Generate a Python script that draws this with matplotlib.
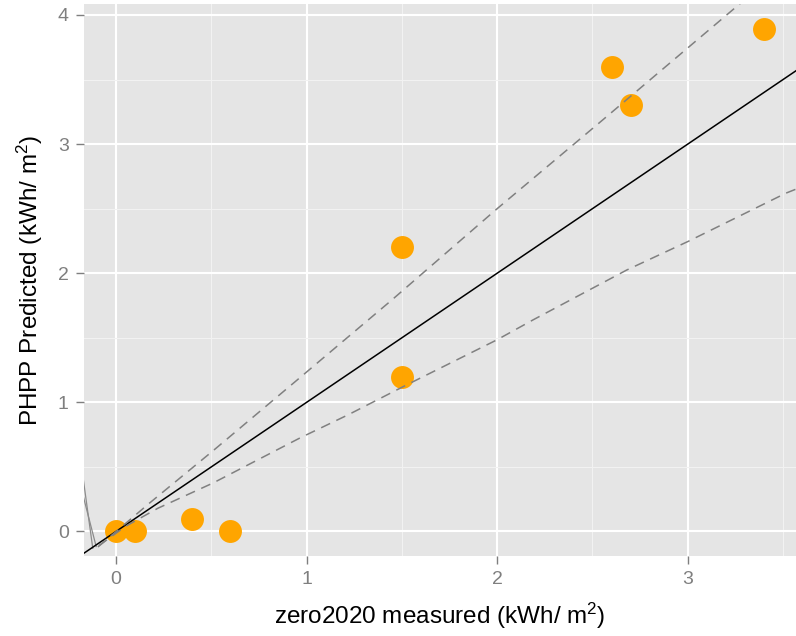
import numpy as np
import matplotlib.pyplot as plt

plt.rcParams['font.family'] = ['Liberation Sans', 'DejaVu Sans']
plt.rcParams['mathtext.fontset'] = 'custom'
plt.rcParams['mathtext.rm'] = 'Liberation Sans'

# measured vs predicted
meas = [0, 0.1, 0.4, 0.6, 1.5, 1.5, 2.6, 2.7, 3.4]
pred = [0, 0, 0.1, 0, 2.2, 1.2, 3.6, 3.3, 3.89]

# dashed bounds
up_x = [-0.095, 0.176, 0.505, 0.948, 1.445, 2.0, 2.54, 3.3]
up_y = [-0.12, 0.22, 0.62, 1.17, 1.79, 2.5, 3.17, 4.12]
lo_x = [-0.09, 0.05, 0.22, 0.51, 0.965, 1.22, 1.51, 2.0, 2.19, 2.68, 3.0, 3.515, 3.6]
lo_y = [-0.11, 0.04, 0.18, 0.376, 0.724, 0.905, 1.124, 1.485, 1.64, 2.025, 2.245, 2.62, 2.67]

# odd grey strokes at the left edge
ga_x = [-0.175, -0.122]
ga_y = [0.44, -0.13]
gb_x = [-0.175, -0.104]
gb_y = [0.29, -0.117]

xlim = (-0.168, 3.568)
ylim = (-0.19, 4.085)

fig = plt.figure(figsize=(7.96, 6.36), dpi=100)
ax = fig.add_axes([84 / 796, 80 / 636, 1 - 84 / 796, 552 / 636])
ax.set_facecolor('#E5E5E5')
for s in ax.spines.values():
    s.set_visible(False)

ax.set_xticks([0, 1, 2, 3])
ax.set_yticks([0, 1, 2, 3, 4])
ax.set_xticks([0.5, 1.5, 2.5, 3.5], minor=True)
ax.set_yticks([0.5, 1.5, 2.5, 3.5], minor=True)
ax.grid(which='major', color='white', lw=1.5)
ax.grid(which='minor', color='#F2F2F2', lw=0.8)
ax.set_axisbelow(True)
ax.tick_params(which='major', length=6, width=1, color='#7F7F7F',
               labelcolor='#7F7F7F', labelsize=14, pad=5)
ax.tick_params(which='minor', length=0)

ax.plot(ga_x, ga_y, color='#8C8C8C', lw=0.9)
ax.plot(gb_x, gb_y, color='#8C8C8C', lw=0.9)

ax.plot(meas, pred, 'o', color='#FFA500', ms=16.5, mew=0, zorder=3)

t = np.array(xlim)
ax.plot(t, t, color='black', lw=1.1, zorder=4)
ax.plot(up_x, up_y, color='#808080', lw=1.1, dashes=(6.5, 4.5), zorder=4)
ax.plot(lo_x, lo_y, color='#808080', lw=1.1, dashes=(6.5, 4.5), zorder=4)

ax.set_xlim(xlim)
ax.set_ylim(ylim)

ax.set_xlabel(r'zero2020 measured (kWh/ $\mathregular{m^2}$)', fontsize=17.5, labelpad=9)
ax.set_ylabel(r'PHPP Predicted (kWh/ $\mathregular{m^2}$)', fontsize=17.5, labelpad=9)

fig.savefig('out.png', dpi=100)
